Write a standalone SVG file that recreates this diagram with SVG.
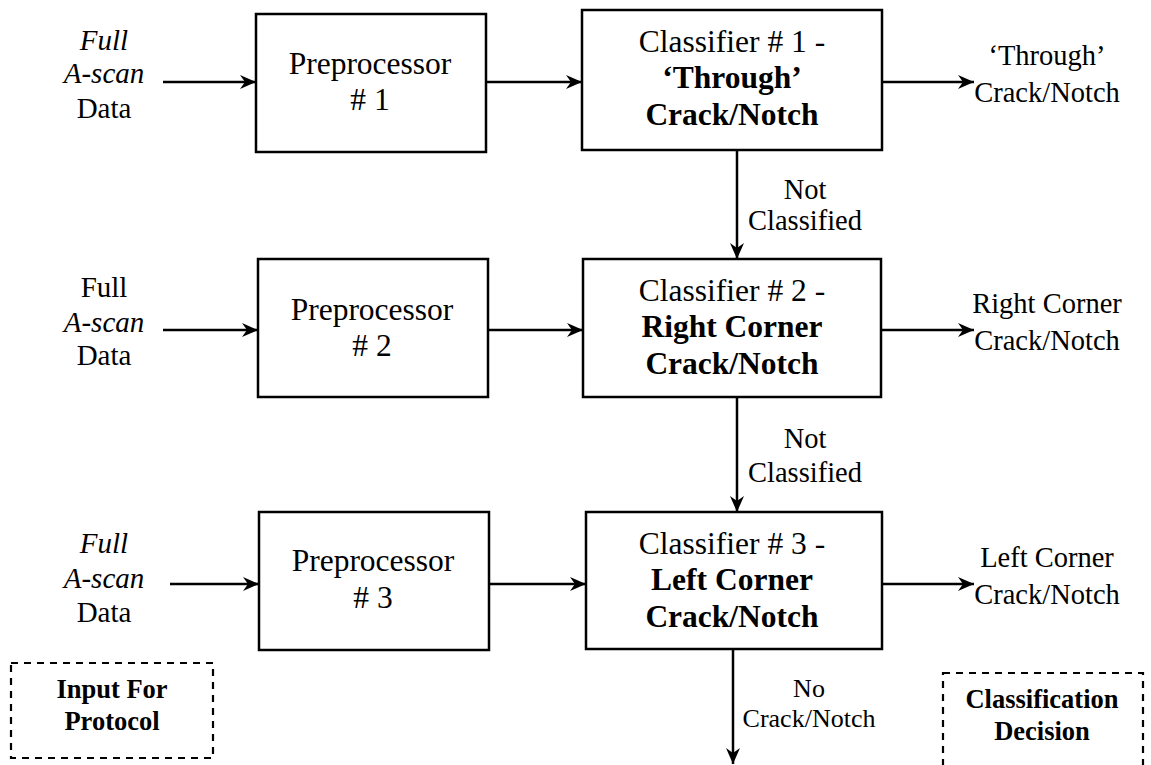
<svg xmlns="http://www.w3.org/2000/svg" width="1151" height="765" viewBox="0 0 1151 765">
<style>
text{font-family:"Liberation Serif","Times New Roman",serif;fill:#000;text-anchor:middle}
.box{fill:#fff;stroke:#000;stroke-width:2.5}
.dash{fill:none;stroke:#000;stroke-width:2.2;stroke-dasharray:7 6}
.in{font-size:29px}
.pp{font-size:31.5px}
.cl{font-size:31.5px}
.b{font-weight:bold}
.it{font-style:italic}
.out{font-size:28.5px}
.lbl{font-size:28.5px}
.sm{font-size:26px}
.leg{font-size:26.5px;font-weight:bold}
.conn line{stroke:#000;stroke-width:2.5;marker-end:url(#ah)}
</style>
<defs>
<marker id="ah" markerUnits="userSpaceOnUse" markerWidth="18" markerHeight="14" refX="16" refY="7" orient="auto">
<path d="M0,0 L16,7 L0,14 L5,7 z" fill="#000"/>
</marker>
</defs>
<rect width="1151" height="765" fill="#fff"/>

<g id="input1">
<text class="in it" x="104" y="50">Full</text>
<text class="in it" x="104" y="83">A-scan</text>
<text class="in" x="104" y="118">Data</text>
</g>
<g id="input2">
<text class="in" x="104" y="297">Full</text>
<text class="in it" x="104" y="332">A-scan</text>
<text class="in" x="104" y="365">Data</text>
</g>
<g id="input3">
<text class="in it" x="104" y="553">Full</text>
<text class="in it" x="104" y="588">A-scan</text>
<text class="in" x="104" y="622">Data</text>
</g>

<g id="pre1">
<rect class="box" x="256" y="14" width="230" height="138"/>
<text class="pp" x="370" y="74">Preprocessor</text>
<text class="pp" x="370" y="110"># 1</text>
</g>
<g id="pre2">
<rect class="box" x="258" y="259" width="230" height="138"/>
<text class="pp" x="372" y="320">Preprocessor</text>
<text class="pp" x="372" y="356"># 2</text>
</g>
<g id="pre3">
<rect class="box" x="259" y="512" width="230" height="138"/>
<text class="pp" x="373" y="571">Preprocessor</text>
<text class="pp" x="373" y="608"># 3</text>
</g>

<g id="cls1">
<rect class="box" x="582" y="10" width="300" height="140"/>
<text class="cl" x="732" y="52">Classifier # 1 -</text>
<text class="cl b" x="732" y="88">‘Through’</text>
<text class="cl b" x="732" y="125">Crack/Notch</text>
</g>
<g id="cls2">
<rect class="box" x="583" y="259" width="298" height="138"/>
<text class="cl" x="732" y="301">Classifier # 2 -</text>
<text class="cl b" x="732" y="337">Right Corner</text>
<text class="cl b" x="732" y="374">Crack/Notch</text>
</g>
<g id="cls3">
<rect class="box" x="586" y="512" width="296" height="137"/>
<text class="cl" x="732" y="554">Classifier # 3 -</text>
<text class="cl b" x="732" y="590">Left Corner</text>
<text class="cl b" x="732" y="627">Crack/Notch</text>
</g>

<g id="out1">
<text class="out" x="1047" y="65">‘Through’</text>
<text class="out" x="1047" y="102">Crack/Notch</text>
</g>
<g id="out2">
<text class="out" x="1047" y="313">Right Corner</text>
<text class="out" x="1047" y="350">Crack/Notch</text>
</g>
<g id="out3">
<text class="out" x="1047" y="567">Left Corner</text>
<text class="out" x="1047" y="604">Crack/Notch</text>
</g>

<g id="labels">
<text class="lbl" x="805" y="199">Not</text>
<text class="lbl" x="805" y="230">Classified</text>
<text class="lbl" x="805" y="448">Not</text>
<text class="lbl" x="805" y="482">Classified</text>
<text class="sm" x="809" y="697">No</text>
<text class="sm" x="809" y="727">Crack/Notch</text>
</g>

<g id="legend-input">
<rect class="dash" x="11" y="663" width="202" height="95"/>
<text class="leg" x="112" y="698">Input For</text>
<text class="leg" x="112" y="730">Protocol</text>
</g>
<g id="legend-decision">
<rect class="dash" x="943" y="673" width="200" height="100"/>
<text class="leg" x="1042" y="708">Classification</text>
<text class="leg" x="1042" y="740">Decision</text>
</g>

<g id="connectors" class="conn">
<line x1="163" y1="82" x2="256" y2="82"/>
<line x1="486" y1="82" x2="582" y2="82"/>
<line x1="882" y1="82" x2="974" y2="82"/>
<line x1="163" y1="330" x2="258" y2="330"/>
<line x1="488" y1="330" x2="583" y2="330"/>
<line x1="881" y1="330" x2="974" y2="330"/>
<line x1="170" y1="584" x2="259" y2="584"/>
<line x1="489" y1="584" x2="586" y2="584"/>
<line x1="882" y1="584" x2="974" y2="584"/>
<line x1="737" y1="150" x2="737" y2="259"/>
<line x1="737" y1="397" x2="737" y2="512"/>
<line x1="733" y1="649" x2="733" y2="764"/>
</g>
</svg>
